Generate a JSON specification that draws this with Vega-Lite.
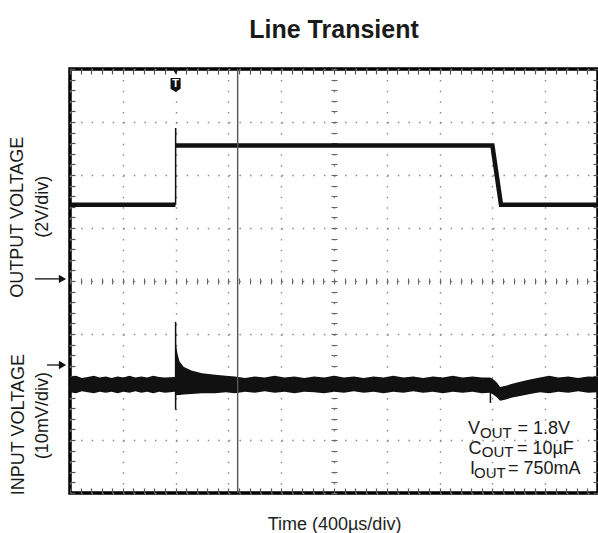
{
"$schema": "https://vega.github.io/schema/vega-lite/v6.json",
"width": 528,
"height": 424,
"autosize": {"type": "none"},
"padding": {"left": 70, "top": 69, "right": 0, "bottom": 40},
"background": "white",
"title": {"text": "Line Transient", "fontSize": 25, "font": "Liberation Sans", "fontWeight": "bold", "color": "#1a1a1a", "offset": 25, "anchor": "middle"},
"datasets": {
"outThick": [
{"seg": "a", "t": 0, "v": 1.44}, {"seg": "a", "t": 799, "v": 1.44},
{"seg": "b", "t": 802, "v": 2.557}, {"seg": "b", "t": 3200, "v": 2.557}, {"seg": "b", "t": 3265, "v": 1.44}, {"seg": "b", "t": 4000, "v": 1.44}
],
"outThin": [
{"seg": "r", "t": 800, "v": 1.44}, {"seg": "r", "t": 800.5, "v": 2.887}
],
"inBand": [
{"t": 0, "hi": -1.81, "lo": -2.10}, {"t": 45, "hi": -1.79, "lo": -2.12}, {"t": 90, "hi": -1.83, "lo": -2.08}, {"t": 135, "hi": -1.81, "lo": -2.10}, {"t": 180, "hi": -1.79, "lo": -2.12},
{"t": 225, "hi": -1.82, "lo": -2.09}, {"t": 270, "hi": -1.80, "lo": -2.11}, {"t": 315, "hi": -1.83, "lo": -2.09}, {"t": 360, "hi": -1.80, "lo": -2.12}, {"t": 405, "hi": -1.82, "lo": -2.09}, {"t": 450, "hi": -1.79, "lo": -2.11},
{"t": 495, "hi": -1.82, "lo": -2.08}, {"t": 540, "hi": -1.80, "lo": -2.11}, {"t": 585, "hi": -1.82, "lo": -2.09}, {"t": 630, "hi": -1.79, "lo": -2.12}, {"t": 675, "hi": -1.81, "lo": -2.09}, {"t": 720, "hi": -1.82, "lo": -2.11},
{"t": 796, "hi": -1.81, "lo": -2.09}, {"t": 800, "hi": -1.10, "lo": -2.16}, {"t": 805, "hi": -1.24, "lo": -2.16},
{"t": 815, "hi": -1.38, "lo": -2.15}, {"t": 830, "hi": -1.52, "lo": -2.15}, {"t": 860, "hi": -1.62, "lo": -2.14},
{"t": 920, "hi": -1.69, "lo": -2.13}, {"t": 1000, "hi": -1.74, "lo": -2.12}, {"t": 1100, "hi": -1.77, "lo": -2.12},
{"t": 1180, "hi": -1.79, "lo": -2.10}, {"t": 1250, "hi": -1.80, "lo": -2.12}, {"t": 1325, "hi": -1.83, "lo": -2.09}, {"t": 1400, "hi": -1.80, "lo": -2.11}, {"t": 1475, "hi": -1.82, "lo": -2.08}, {"t": 1550, "hi": -1.79, "lo": -2.11},
{"t": 1625, "hi": -1.82, "lo": -2.09}, {"t": 1700, "hi": -1.80, "lo": -2.12}, {"t": 1775, "hi": -1.83, "lo": -2.09}, {"t": 1850, "hi": -1.80, "lo": -2.10}, {"t": 1925, "hi": -1.82, "lo": -2.12}, {"t": 2000, "hi": -1.79, "lo": -2.09},
{"t": 2075, "hi": -1.82, "lo": -2.11}, {"t": 2150, "hi": -1.80, "lo": -2.08}, {"t": 2225, "hi": -1.83, "lo": -2.11}, {"t": 2300, "hi": -1.80, "lo": -2.09}, {"t": 2375, "hi": -1.82, "lo": -2.12}, {"t": 2450, "hi": -1.79, "lo": -2.09},
{"t": 2525, "hi": -1.82, "lo": -2.11}, {"t": 2600, "hi": -1.80, "lo": -2.08}, {"t": 2675, "hi": -1.83, "lo": -2.11}, {"t": 2750, "hi": -1.80, "lo": -2.09}, {"t": 2825, "hi": -1.82, "lo": -2.12}, {"t": 2900, "hi": -1.79, "lo": -2.09},
{"t": 2975, "hi": -1.82, "lo": -2.11}, {"t": 3050, "hi": -1.80, "lo": -2.09}, {"t": 3120, "hi": -1.82, "lo": -2.12}, {"t": 3180, "hi": -1.82, "lo": -2.11}, {"t": 3200, "hi": -1.84, "lo": -2.13},
{"t": 3235, "hi": -1.92, "lo": -2.20}, {"t": 3258, "hi": -2.00, "lo": -2.26}, {"t": 3295, "hi": -1.98, "lo": -2.24},
{"t": 3350, "hi": -1.94, "lo": -2.20}, {"t": 3410, "hi": -1.90, "lo": -2.17}, {"t": 3485, "hi": -1.86, "lo": -2.13},
{"t": 3560, "hi": -1.82, "lo": -2.10}, {"t": 3630, "hi": -1.79, "lo": -2.12}, {"t": 3700, "hi": -1.82, "lo": -2.09}, {"t": 3775, "hi": -1.80, "lo": -2.11}, {"t": 3850, "hi": -1.83, "lo": -2.08}, {"t": 3925, "hi": -1.80, "lo": -2.11},
{"t": 4000, "hi": -1.81, "lo": -2.10}
],
"spikes": [
{"t": 800, "y1": -0.77, "y2": -2.43}, {"t": 3185, "y1": -1.85, "y2": -2.30}
],
"cursor": [{"t": 1270}],
"trig": [{"t": 800, "v": 3.96, "vb": 3.70, "label": "T"}],
"arrows": [
{"t1": -265, "t2": -57, "v": 0.04}, {"t1": -174, "t2": -57, "v": -1.585}
],
"ylabels": [
{"text": "OUTPUT VOLTAGE", "t": -394, "v": 1.205}, {"text": "(2V/div)", "t": -208, "v": 1.40},
{"text": "INPUT VOLTAGE", "t": -386, "v": -2.71}, {"text": "(10mV/div)", "t": -208, "v": -2.54}
],
"notes": [
{"m": "V", "s": "OUT", "r": "= 1.8V", "tm": 3015, "ts": 3106, "tr": 3390, "y": -2.887, "ys": -2.953},
{"m": "C", "s": "OUT", "r": "= 10µF", "tm": 3018, "ts": 3119, "tr": 3386, "y": -3.264, "ys": -3.330},
{"m": "I", "s": "OUT", "r": "= 750mA", "tm": 3030, "ts": 3061, "tr": 3318, "y": -3.642, "ys": -3.708}
]
},
"layer": [
{
"data": {"name": "outThick"},
"mark": {"type": "line", "color": "#111", "strokeWidth": 4.5},
"encoding": {
"x": {"field": "t", "type": "quantitative", "scale": {"domain": [0, 4000], "nice": false, "zero": false},
"axis": {"orient": "bottom", "values": [0, 400, 800, 1200, 1600, 2000, 2400, 2800, 3200, 3600, 4000], "grid": true, "gridColor": "#8c8c8c", "gridDash": [1.5, 9.1], "gridWidth": 1.4, "ticks": false, "labels": false, "domain": false, "title": "Time (400µs/div)", "titleFontSize": 18, "titleFont": "Liberation Sans", "titleFontWeight": "normal", "titleColor": "#222", "titleBaseline": "alphabetic", "titleY": 36}},
"y": {"field": "v", "type": "quantitative", "scale": {"domain": [-4, 4], "nice": false, "zero": false},
"axis": {"orient": "left", "values": [-4, -3, -2, -1, 0, 1, 2, 3, 4], "grid": true, "gridColor": "#8c8c8c", "gridDash": [1.5, 9.06], "gridWidth": 1.4, "ticks": false, "labels": false, "domain": false, "title": null}},
"detail": {"field": "seg"}
}
},
{
"data": {"name": "outThin"},
"mark": {"type": "line", "color": "#111", "strokeWidth": 1.5},
"encoding": {
"x": {"field": "t", "type": "quantitative", "scale": {"domain": [0, 4000], "nice": false, "zero": false},
"axis": {"orient": "bottom", "offset": -5, "tickSize": 5, "tickColor": "#555", "tickWidth": 1.2, "grid": false, "labels": false, "domain": false, "title": null,
"values": [0,80,160,240,320,400,480,560,640,720,800,880,960,1040,1120,1200,1280,1360,1440,1520,1600,1680,1760,1840,1920,2000,2080,2160,2240,2320,2400,2480,2560,2640,2720,2800,2880,2960,3040,3120,3200,3280,3360,3440,3520,3600,3680,3760,3840,3920,4000]}},
"y": {"field": "v", "type": "quantitative", "scale": {"domain": [-4, 4], "nice": false, "zero": false},
"axis": {"orient": "left", "offset": -5, "tickSize": 5, "tickColor": "#555", "tickWidth": 1.2, "grid": false, "labels": false, "domain": false, "title": null,
"values": [-4,-3.8,-3.6,-3.4,-3.2,-3,-2.8,-2.6,-2.4,-2.2,-2,-1.8,-1.6,-1.4,-1.2,-1,-0.8,-0.6,-0.4,-0.2,0,0.2,0.4,0.6,0.8,1,1.2,1.4,1.6,1.8,2,2.2,2.4,2.6,2.8,3,3.2,3.4,3.6,3.8,4]}},
"detail": {"field": "seg"}
}
},
{
"data": {"name": "inBand"},
"mark": {"type": "area", "color": "#111"},
"encoding": {
"x": {"field": "t", "type": "quantitative", "scale": {"domain": [0, 4000], "nice": false, "zero": false},
"axis": {"orient": "top", "offset": -5, "tickSize": 5, "tickColor": "#555", "tickWidth": 1.2, "grid": false, "labels": false, "domain": false, "title": null,
"values": [0,80,160,240,320,400,480,560,640,720,800,880,960,1040,1120,1200,1280,1360,1440,1520,1600,1680,1760,1840,1920,2000,2080,2160,2240,2320,2400,2480,2560,2640,2720,2800,2880,2960,3040,3120,3200,3280,3360,3440,3520,3600,3680,3760,3840,3920,4000]}},
"y": {"field": "hi", "type": "quantitative", "scale": {"domain": [-4, 4], "nice": false, "zero": false},
"axis": {"orient": "right", "offset": -5, "tickSize": 5, "tickColor": "#555", "tickWidth": 1.2, "grid": false, "labels": false, "domain": false, "title": null,
"values": [-4,-3.8,-3.6,-3.4,-3.2,-3,-2.8,-2.6,-2.4,-2.2,-2,-1.8,-1.6,-1.4,-1.2,-1,-0.8,-0.6,-0.4,-0.2,0,0.2,0.4,0.6,0.8,1,1.2,1.4,1.6,1.8,2,2.2,2.4,2.6,2.8,3,3.2,3.4,3.6,3.8,4]}},
"y2": {"field": "lo"}
}
},
{
"data": {"name": "spikes"},
"mark": {"type": "rule", "color": "#111", "strokeWidth": 1.5},
"encoding": {
"x": {"field": "t", "type": "quantitative", "scale": {"domain": [0, 4000], "nice": false, "zero": false},
"axis": {"orient": "bottom", "offset": -215, "tickSize": 6, "tickColor": "#666", "tickWidth": 1.1, "grid": false, "labels": false, "domain": false, "title": null,
"values": [0,80,160,240,320,400,480,560,640,720,800,880,960,1040,1120,1200,1280,1360,1440,1520,1600,1680,1760,1840,1920,2000,2080,2160,2240,2320,2400,2480,2560,2640,2720,2800,2880,2960,3040,3120,3200,3280,3360,3440,3520,3600,3680,3760,3840,3920,4000]}},
"y": {"field": "y1", "type": "quantitative", "scale": {"domain": [-4, 4], "nice": false, "zero": false},
"axis": {"orient": "left", "offset": -267, "tickSize": 6, "tickColor": "#666", "tickWidth": 1.1, "grid": false, "labels": false, "domain": false, "title": null,
"values": [-4,-3.8,-3.6,-3.4,-3.2,-3,-2.8,-2.6,-2.4,-2.2,-2,-1.8,-1.6,-1.4,-1.2,-1,-0.8,-0.6,-0.4,-0.2,0,0.2,0.4,0.6,0.8,1,1.2,1.4,1.6,1.8,2,2.2,2.4,2.6,2.8,3,3.2,3.4,3.6,3.8,4]}},
"y2": {"field": "y2"}
}
},
{
"data": {"name": "cursor"},
"mark": {"type": "rule", "color": "#555", "strokeWidth": 1.4},
"encoding": {
"x": {"field": "t", "type": "quantitative", "scale": {"domain": [0, 4000], "nice": false, "zero": false}, "axis": null}
}
},
{
"data": {"name": "trig"},
"mark": {"type": "point", "shape": "triangle-down", "filled": true, "color": "#111", "size": 45, "opacity": 1},
"encoding": {
"x": {"field": "t", "type": "quantitative", "scale": {"domain": [0, 4000], "nice": false, "zero": false}, "axis": null},
"y": {"field": "v", "type": "quantitative", "scale": {"domain": [-4, 4], "nice": false, "zero": false}, "axis": null}
}
},
{
"data": {"name": "trig"},
"mark": {"type": "point", "shape": "M-0.72,-1 L0.72,-1 L0.72,0.55 L0,1 L-0.72,0.55 Z", "filled": true, "color": "#111", "size": 196, "opacity": 1},
"encoding": {
"x": {"field": "t", "type": "quantitative", "scale": {"domain": [0, 4000], "nice": false, "zero": false}, "axis": null},
"y": {"field": "vb", "type": "quantitative", "scale": {"domain": [-4, 4], "nice": false, "zero": false}, "axis": null}
}
},
{
"data": {"name": "trig"},
"mark": {"type": "text", "color": "white", "fontSize": 11, "fontWeight": "bold", "font": "Liberation Sans", "align": "center", "baseline": "middle", "dy": -1},
"encoding": {
"x": {"field": "t", "type": "quantitative", "scale": {"domain": [0, 4000], "nice": false, "zero": false}, "axis": null},
"y": {"field": "vb", "type": "quantitative", "scale": {"domain": [-4, 4], "nice": false, "zero": false}, "axis": null},
"text": {"field": "label"}
}
},
{
"data": {"name": "arrows"},
"mark": {"type": "rule", "color": "#222", "strokeWidth": 1.4},
"encoding": {
"x": {"field": "t1", "type": "quantitative", "scale": {"domain": [0, 4000], "nice": false, "zero": false}, "axis": null},
"x2": {"field": "t2"},
"y": {"field": "v", "type": "quantitative", "scale": {"domain": [-4, 4], "nice": false, "zero": false}, "axis": null}
}
},
{
"data": {"name": "arrows"},
"mark": {"type": "point", "shape": "triangle-right", "filled": true, "color": "#111", "size": 70, "opacity": 1},
"encoding": {
"x": {"field": "t2", "type": "quantitative", "scale": {"domain": [0, 4000], "nice": false, "zero": false}, "axis": null},
"y": {"field": "v", "type": "quantitative", "scale": {"domain": [-4, 4], "nice": false, "zero": false}, "axis": null}
}
},
{
"data": {"name": "ylabels"},
"mark": {"type": "text", "angle": 270, "align": "center", "baseline": "middle", "fontSize": 18, "font": "Liberation Sans", "color": "#1a1a1a"},
"encoding": {
"x": {"field": "t", "type": "quantitative", "scale": {"domain": [0, 4000], "nice": false, "zero": false}, "axis": null},
"y": {"field": "v", "type": "quantitative", "scale": {"domain": [-4, 4], "nice": false, "zero": false}, "axis": null},
"text": {"field": "text"}
}
},
{
"data": {"name": "notes"},
"mark": {"type": "text", "align": "left", "baseline": "alphabetic", "fontSize": 18, "font": "Liberation Sans", "color": "#1a1a1a"},
"encoding": {
"x": {"field": "tm", "type": "quantitative", "scale": {"domain": [0, 4000], "nice": false, "zero": false}, "axis": null},
"y": {"field": "y", "type": "quantitative", "scale": {"domain": [-4, 4], "nice": false, "zero": false}, "axis": null},
"text": {"field": "m"}
}
},
{
"data": {"name": "notes"},
"mark": {"type": "text", "align": "left", "baseline": "alphabetic", "fontSize": 15, "font": "Liberation Sans", "color": "#1a1a1a"},
"encoding": {
"x": {"field": "ts", "type": "quantitative", "scale": {"domain": [0, 4000], "nice": false, "zero": false}, "axis": null},
"y": {"field": "ys", "type": "quantitative", "scale": {"domain": [-4, 4], "nice": false, "zero": false}, "axis": null},
"text": {"field": "s"}
}
},
{
"data": {"name": "notes"},
"mark": {"type": "text", "align": "left", "baseline": "alphabetic", "fontSize": 18, "font": "Liberation Sans", "color": "#1a1a1a"},
"encoding": {
"x": {"field": "tr", "type": "quantitative", "scale": {"domain": [0, 4000], "nice": false, "zero": false}, "axis": null},
"y": {"field": "y", "type": "quantitative", "scale": {"domain": [-4, 4], "nice": false, "zero": false}, "axis": null},
"text": {"field": "r"}
}
}
],
"resolve": {"axis": {"x": "independent", "y": "independent"}},
"config": {
"view": {"stroke": "#000", "strokeWidth": 3.5},
"font": "Liberation Sans"
}
}
